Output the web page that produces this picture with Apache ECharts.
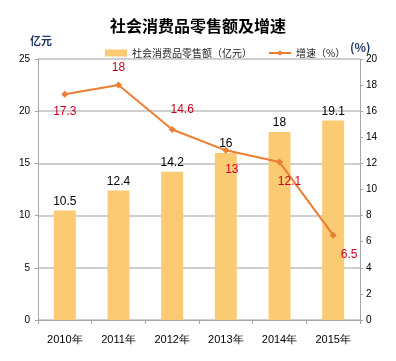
<!DOCTYPE html>
<html><head><meta charset="utf-8">
<script src="https://cdn.jsdelivr.net/npm/echarts@6/dist/echarts.min.js"></script>
<style>html,body{margin:0;padding:0;background:#fff}#c{width:396px;height:361px}</style>
</head><body><div id="c"></div>
<script>
var categories = ['2010年','2011年','2012年','2013年','2014年','2015年'];
var salesValues = [10.5, 12.4, 14.2, 16, 18, 19.1];
var growthValues = [17.3, 18, 14.6, 13, 12.1, 6.5];
var growthLabelPos = ['bottom','top','top','bottom','bottom','bottom'];
var leftTicks = {min:0, max:25, interval:5};
var rightTicks = {min:0, max:20, interval:2};
var seriesNames = ['社会消费品零售额（亿元）','增速（%）'];

var FONT = '"Noto Sans CJK SC", "Liberation Sans", sans-serif';
var chart = echarts.init(document.getElementById('c'), null, {renderer:'canvas'});
var lineData = growthValues.map(function(v, i){
  var lbl = {position: growthLabelPos[i]};
  if (i === 2) { lbl.offset = [10, -2]; }
  if (i === 3) { lbl.offset = [6, 2]; }
  if (i === 4) { lbl.offset = [10, 2]; }
  if (i === 5) { lbl.offset = [16, 2]; }
  return {value: v, label: lbl};
});
chart.setOption({
  animation: false,
  title: {
    text: '社会消费品零售额及增速', left: 'center', top: 13,
    textStyle: {fontFamily: FONT, fontSize: 16, fontWeight: 'bold', color: '#000'}
  },
  legend: {
    top: 43, left: 100, itemGap: 16,
    itemWidth: 22, itemHeight: 7,
    textStyle: {fontFamily: FONT, fontSize: 10, color: '#222'},
    data: [
      {name: seriesNames[0], icon: 'rect'},
      {name: seriesNames[1]}
    ]
  },
  graphic: [
    {type:'text', left: 30, top: 35, style:{text:'亿元', font:'bold 11px '+FONT, fill:'#1f3864'}},
    {type:'text', left: 350, top: 41, style:{text:'(%)', font:'bold 12px '+FONT, fill:'#1f3864'}}
  ],
  grid: {left: 38, right: 36, top: 59, bottom: 41},
  xAxis: {
    type: 'category', data: categories,
    axisLine: {lineStyle: {color: '#a6a6a6', width: 1}},
    axisTick: {show: true, alignWithLabel: false, length: 4, lineStyle: {color: '#a6a6a6'}},
    axisLabel: {fontFamily: '"Liberation Sans", sans-serif', fontSize: 11, color: '#000', margin: 14}
  },
  yAxis: [
    {
      type: 'value', min: leftTicks.min, max: leftTicks.max, interval: leftTicks.interval,
      axisLine: {show: true, lineStyle: {color: '#a6a6a6'}},
      axisTick: {show: true, length: 3, lineStyle: {color: '#a6a6a6'}},
      axisLabel: {fontFamily: '"Liberation Sans", sans-serif', fontSize: 10, color: '#000', margin: 8},
      splitLine: {lineStyle: {color: '#bfbfbf', width: 1.5}}
    },
    {
      type: 'value', min: rightTicks.min, max: rightTicks.max, interval: rightTicks.interval,
      axisLine: {show: true, lineStyle: {color: '#a6a6a6'}},
      axisTick: {show: true, length: 3, lineStyle: {color: '#a6a6a6'}},
      axisLabel: {fontFamily: '"Liberation Sans", sans-serif', fontSize: 10, color: '#000', margin: 6},
      splitLine: {show: false}
    }
  ],
  series: [
    {
      name: seriesNames[0], type: 'bar', data: salesValues, barWidth: '41%',
      itemStyle: {color: '#fbcb74'},
      label: {show: true, position: 'top', fontFamily: '"Liberation Sans", sans-serif', fontSize: 12, color: '#000', distance: 3}
    },
    {
      name: seriesNames[1], type: 'line', yAxisIndex: 1, data: lineData,
      symbol: 'diamond', symbolSize: 7,
      lineStyle: {color: '#ed7d31', width: 2},
      itemStyle: {color: '#ed7d31'},
      label: {show: true, fontFamily: '"Liberation Sans", sans-serif', fontSize: 12, color: '#cc0022', distance: 8}
    }
  ]
});
</script></body></html>
